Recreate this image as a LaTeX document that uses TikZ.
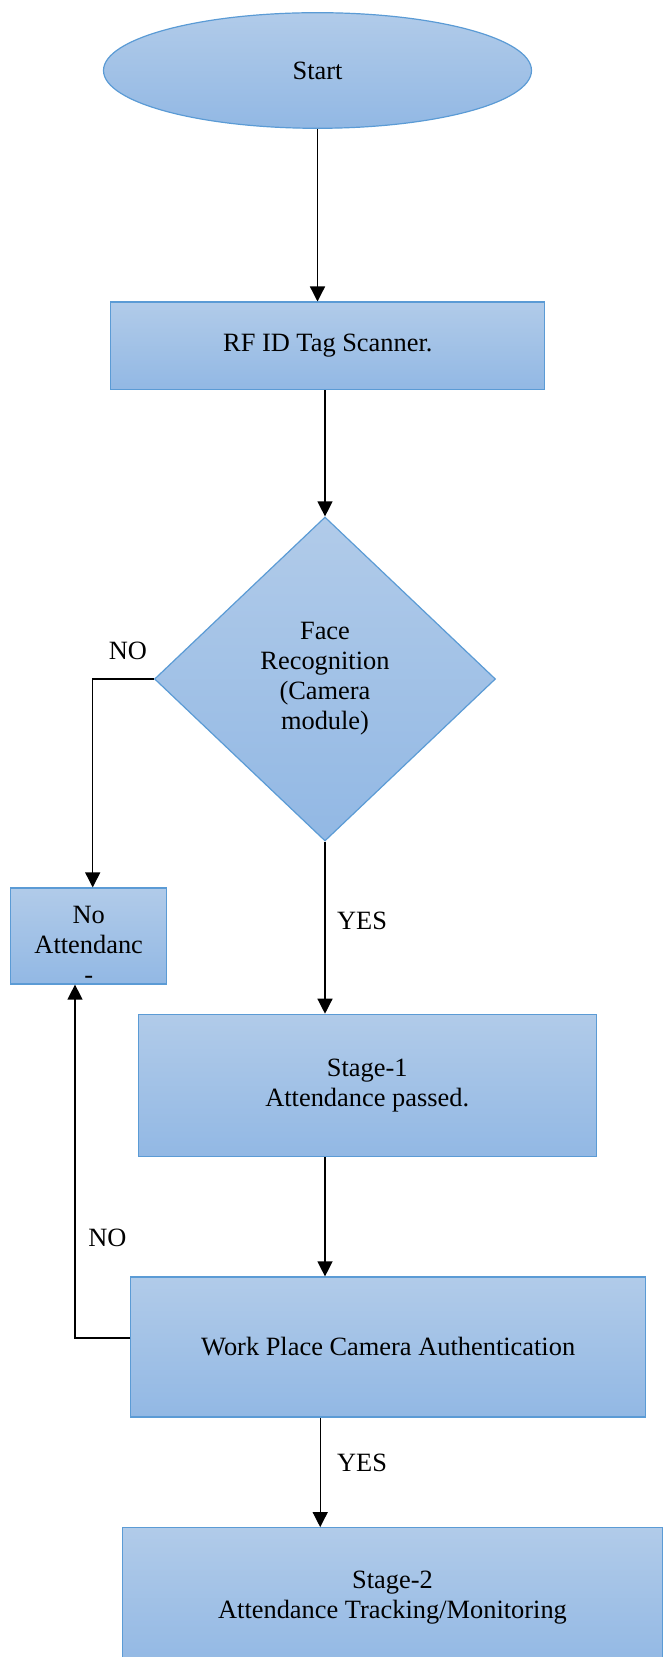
\documentclass[tikz,border=0pt]{standalone}
\usepackage{fontspec}
\setmainfont{Liberation Serif}
\usetikzlibrary{shapes.geometric,arrows.meta}
\definecolor{hautbleu}{RGB}{177,203,233}
\definecolor{basbleu}{RGB}{146,184,228}
\definecolor{bordbleu}{RGB}{91,155,213}
\tikzset{
	bloc/.style={draw=bordbleu,line width=0.6pt,top color=hautbleu,bottom color=basbleu,inner sep=0pt,align=center,font=\fontsize{13.2}{15}\selectfont},
	boite/.style={bloc,rectangle},
	fleche/.style={->,>={Triangle[width=7.5pt,length=7.5pt]},line width=0.65pt},
	etiq/.style={font=\fontsize{13.2}{15}\selectfont}
}
\begin{document}
\begin{tikzpicture}[x=0.5pt,y=-0.5pt]
	\useasboundingbox (0,0) rectangle (664,1657);
	% les blocs
	\node[bloc,ellipse,minimum width=214pt,minimum height=57.8pt] (start) at (317.5,70.5) {Start};
	\node[boite,minimum width=217pt,minimum height=43.9pt] (rfid) at (327.8,346) {RF ID Tag Scanner.};
	\node[bloc,diamond,minimum width=170.5pt,minimum height=162pt] (face) at (325,679) {Face\\Recognition\\(Camera\\module)};
	\node[boite,minimum width=78pt,minimum height=48pt] (noatt) at (88.7,936) {\rule{0pt}{17pt}No\\Attendanc\\-};
	\node[boite,minimum width=229pt,minimum height=71.2pt] (stage1) at (367.2,1085.5) {Stage-1\\Attendance passed.};
	\node[boite,minimum width=257.5pt,minimum height=70pt] (work) at (388.2,1347) {Work Place Camera Authentication};
	\node[boite,minimum width=270.2pt,minimum height=69.8pt] (stage2) at (392.5,1597.5) {Stage-2\\Attendance Tracking/Monitoring};
	% les fleches
	\draw[fleche] (start.south) -- (start.south |- rfid.north);
	\draw[fleche] (face.north |- rfid.south) -- (face.north);
	\draw[fleche] (face.west) -| ([xshift=2pt]noatt.north);
	\draw[fleche] (face.south) -- (face.south |- stage1.north);
	\draw[fleche] (face.south |- stage1.south) -- (face.south |- work.north);
	\draw[fleche] ([yshift=4.5pt]work.west) -| ([xshift=-6.85pt]noatt.south);
	\draw[fleche] ([xshift=-34pt]work.south) -- ([xshift=-34pt]work.south |- stage2.north);
	% les etiquettes
	\node[etiq] (non1) at (128,651) {NO};
	\node[etiq] (oui1) at (362,921) {YES};
	\node[etiq] (non2) at (107.5,1238) {NO};
	\node[etiq] (oui2) at (362,1463) {YES};
\end{tikzpicture}
\end{document}
